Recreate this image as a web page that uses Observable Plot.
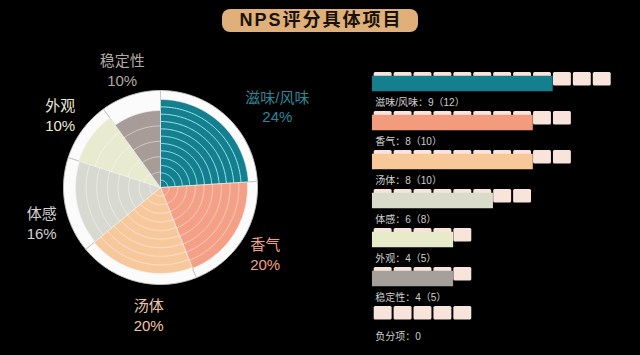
<!DOCTYPE html>
<html><head><meta charset="utf-8">
<script src="https://cdn.jsdelivr.net/npm/d3@7"></script>
<script src="https://cdn.jsdelivr.net/npm/@observablehq/plot@0.6"></script>
<style>
html,body{margin:0;padding:0;background:#000;}
#wrap{position:relative;width:640px;height:355px;overflow:hidden;background:#000;font-family:"Liberation Sans","Noto Sans CJK SC",sans-serif;}
#title{position:absolute;left:222px;top:9px;width:196px;height:23px;background:#dfb07a;border-radius:8px;color:#1a1208;font:bold 18px "Liberation Sans","Noto Sans CJK SC",sans-serif;letter-spacing:2px;text-indent:2px;text-align:center;line-height:23px;}
#pie{position:absolute;left:0;top:0;}
#bars{position:absolute;left:360px;top:0;}
</style></head><body>
<div id="wrap"><div id="pie"></div><div id="bars"></div><div id="title"></div></div>
<script>
// ---- data ----
const title = "NPS评分具体项目";
const pieNames = ["滋味/风味", "香气", "汤体", "体感", "外观", "稳定性"];
const pieShares = [24, 20, 20, 16, 10, 10];
const barNames = ["滋味/风味", "香气", "汤体", "体感", "外观", "稳定性", "负分项"];
const barScores = [9, 8, 8, 6, 4, 4, 0];
const barMax = [12, 10, 10, 8, 5, 5, 5];

// ---- styles ----
const pieColors = ["#137f8f", "#f4a086", "#f8c89d", "#d8d9d1", "#e8ebcf", "#a89c98"];
const labelColors = ["#2e8797", "#f2a08a", "#f1c6a6", "#d2d2d2", "#ebe8d8", "#b3a9a5"];
const barColors = ["#157f8e", "#f29b7d", "#f8c899", "#d9dccb", "#e8ebc9", "#a79f99", "#6f6b69"];
const sliceRadius = [0.88, 0.87, 0.86, 0.85, 0.86, 0.77];

document.getElementById("title").textContent = title;

// ---- pie geometry ----
const total = d3.sum(pieShares);
let acc = 0;
const slices = pieNames.map((name, i) => {
  const a0 = acc / total * 2 * Math.PI; acc += pieShares[i];
  const a1 = acc / total * 2 * Math.PI;
  return {name, i, a0, a1, share: pieShares[i], rings: barMax[i], r: sliceRadius[i]};
});
function arcPts(a0, a1, r, key, extra = {}) {
  const n = Math.max(8, Math.ceil((a1 - a0) / 0.02));
  const pts = [];
  for (let k = 0; k <= n; k++) {
    const a = a0 + (a1 - a0) * k / n;
    pts.push({key, x: r * Math.sin(a), y: r * Math.cos(a), ...extra});
  }
  return pts;
}
function wedge(s, r, key, extra = {}) {
  return [{key, x: 0, y: 0, ...extra}, ...arcPts(s.a0, s.a1, r, key, extra), {key, x: 0, y: 0, ...extra}];
}
const whiteWedges = slices.flatMap(s => wedge(s, 0.97, "w" + s.i));
const colorWedges = slices.flatMap(s => wedge(s, s.r, "c" + s.i, {fill: pieColors[s.i]}));
const rings = slices.flatMap(s => d3.range(1, s.rings).flatMap(k =>
  arcPts(s.a0, s.a1, s.r * k / s.rings, `r${s.i}-${k}`, {slice: s.i})));
const labels = slices.map(s => {
  const m = (s.a0 + s.a1) / 2;
  return {i: s.i, lx: 1.24 * Math.sin(m), ly: 1.24 * Math.cos(m), text: `${s.name}\n${s.share}%`, fill: labelColors[s.i]};
});
const labelOpts = {x: "lx", y: "ly", text: "text", fill: "fill", fontSize: 15, lineHeight: 1.33, textAnchor: "middle"};

const pie = Plot.plot({
  width: 340, height: 355, margin: 0,
  x: {domain: [-1.6, 1.8], axis: null},
  y: {domain: [-1.68, 1.87], axis: null},
  color: {type: "identity"},
  style: {background: "transparent", fontFamily: "'Liberation Sans','Noto Sans CJK SC',sans-serif"},
  marks: [
    Plot.line(whiteWedges, {x: "x", y: "y", z: "key", fill: "#fbfbfb", stroke: "#c6c6c6", strokeWidth: 0.9}),
    Plot.line(colorWedges, {x: "x", y: "y", z: "key", fill: "fill", stroke: "#f4f4f4", strokeWidth: 0.6}),
    Plot.line(rings.filter(d => d.slice === 0), {x: "x", y: "y", z: "key", stroke: "#a4ecf2", strokeWidth: 1, strokeOpacity: 0.95}),
    Plot.line(rings.filter(d => d.slice !== 0), {x: "x", y: "y", z: "key", stroke: "#ffffff", strokeWidth: 1, strokeOpacity: 0.45}),
    Plot.text(labels.filter(d => ![0, 2, 3].includes(d.i)), labelOpts),
    Plot.text(labels.filter(d => d.i === 0), {...labelOpts, dx: 32, dy: 9}),
    Plot.text(labels.filter(d => d.i === 2), {...labelOpts, dx: 19, dy: 7}),
    Plot.text(labels.filter(d => d.i === 3), {...labelOpts, dx: 3, dy: 12})
  ]
});
document.getElementById("pie").append(pie);

// ---- bars ----
const cells = barNames.flatMap((name, i) => d3.range(barMax[i]).map(k => ({name, k0: k, k1: k + 1})));
const bars = barNames.map((name, i) => ({
  name, score: barScores[i], color: barColors[i],
  label: name === "负分项" ? `${name}：${barScores[i]}` : `${name}：${barScores[i]}（${barMax[i]}）`
}));
const barPlot = Plot.plot({
  width: 280, height: 355,
  marginLeft: 12.7, marginRight: 28.3, marginTop: 71.7, marginBottom: 10,
  x: {domain: [0, 12], axis: null},
  y: {domain: barNames, axis: null, padding: 0},
  color: {type: "identity"},
  style: {background: "transparent", fontFamily: "'Liberation Sans','Noto Sans CJK SC',sans-serif"},
  marks: [
    Plot.barX(cells, {y: "name", x1: "k0", x2: "k1", fill: "#f9e4dc", insetLeft: 1, insetRight: 1, insetTop: 0, insetBottom: 25.5, rx: 1.5}),
    Plot.barX(bars, {y: "name", x: "score", fill: "color", stroke: "color", strokeWidth: 1.5, insetTop: 4.5, insetBottom: 20.5}),
    Plot.text(bars, {y: "name", x: 0, text: "label", textAnchor: "start", dx: 2, dy: 11, fill: "#cfcfcf", fontSize: 10})
  ]
});
document.getElementById("bars").append(barPlot);
</script>
</body></html>
